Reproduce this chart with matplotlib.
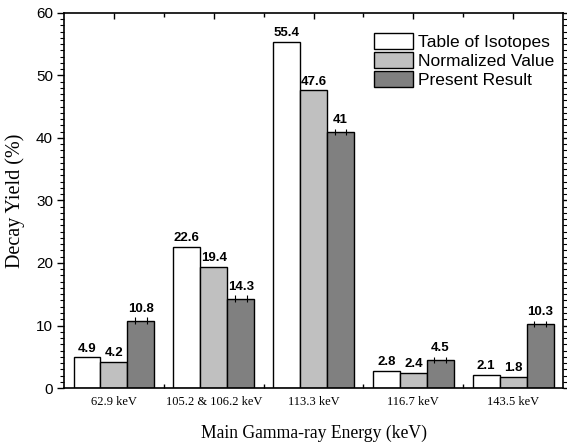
import matplotlib
matplotlib.use("Agg")
import matplotlib.pyplot as plt
import numpy as np
from matplotlib.ticker import MultipleLocator, FixedLocator

categories = ["62.9 keV", "105.2 & 106.2 keV", "113.3 keV", "116.7 keV", "143.5 keV"]
series_names = ["Table of Isotopes", "Normalized Value", "Present Result"]
table_isotopes = [4.9, 22.6, 55.4, 2.8, 2.1]
normalized = [4.2, 19.4, 47.6, 2.4, 1.8]
present = [10.8, 14.3, 41, 4.5, 10.3]
present_err = [0.5, 0.5, 0.5, 0.5, 0.5]

COLORS = ["white", "#c0c0c0", "#808080"]
SANS = "Liberation Sans"
SERIF = "Liberation Serif"

fig = plt.figure(figsize=(5.67, 4.46), dpi=100)
ax = fig.add_axes([0.113, 0.130, 0.880, 0.841])

x = np.arange(len(categories))
w = 0.27
series = [table_isotopes, normalized, present]
errs = [None, None, present_err]

for i, (vals, err, c, name) in enumerate(zip(series, errs, COLORS, series_names)):
    pos = x + (i - 1) * w
    ax.bar(pos, vals, w, color=c, edgecolor="black", linewidth=1.0, label=name, zorder=2)
    tops = np.array(vals, dtype=float)
    if err is not None:
        err = np.array(err)
        # error marks drawn as a pair of short verticals across the bar top
        for dx in (-0.06, 0.06):
            ax.vlines(pos + dx, tops - err, tops + err, color="black", linewidth=0.8, zorder=3)
        tops = tops + err
    for p, v, t in zip(pos, vals, tops):
        ax.annotate(f"{v:g}", xy=(p, t), xytext=(0, 2), textcoords="offset points",
                    ha="center", va="bottom", fontsize=9.5, fontweight="bold", family=SANS)

ax.set_xlim(-0.5, len(categories) - 0.5)
ax.set_ylim(0, 60)
ax.yaxis.set_major_locator(MultipleLocator(10))
ax.yaxis.set_minor_locator(MultipleLocator(1))

ax.set_xticks(x)
ax.set_xticklabels(categories, family=SERIF, fontsize=9)
ax.xaxis.set_minor_locator(FixedLocator(x[:-1] + 0.5))
ax.tick_params(axis="x", which="major", bottom=False, top=True, direction="in", length=4, width=1, pad=6)
ax.tick_params(axis="x", which="minor", bottom=True, top=True, direction="in", length=3, width=1)
ax.tick_params(axis="y", which="major", left=True, right=True, direction="out", length=5, width=1,
               labelsize=11, pad=3)
ax.tick_params(axis="y", which="minor", left=True, right=True, direction="out", length=3, width=0.8)
for lab in ax.get_yticklabels():
    lab.set_family(SANS)

for s in ax.spines.values():
    s.set_linewidth(1.2)

ax.set_ylabel("Decay Yield (%)", family=SERIF, fontsize=14.5, labelpad=8)
ax.set_xlabel("Main Gamma-ray Energy (keV)", family=SERIF, fontsize=12.7, labelpad=12)

ax.legend(loc="upper right", bbox_to_anchor=(0.982, 0.947), frameon=False,
          prop={"family": SANS, "size": 12.5}, handlelength=2.25, handleheight=1.05,
          labelspacing=0.12, handletextpad=0.3, borderaxespad=0, borderpad=0)

fig.savefig("out.png", dpi=100)
